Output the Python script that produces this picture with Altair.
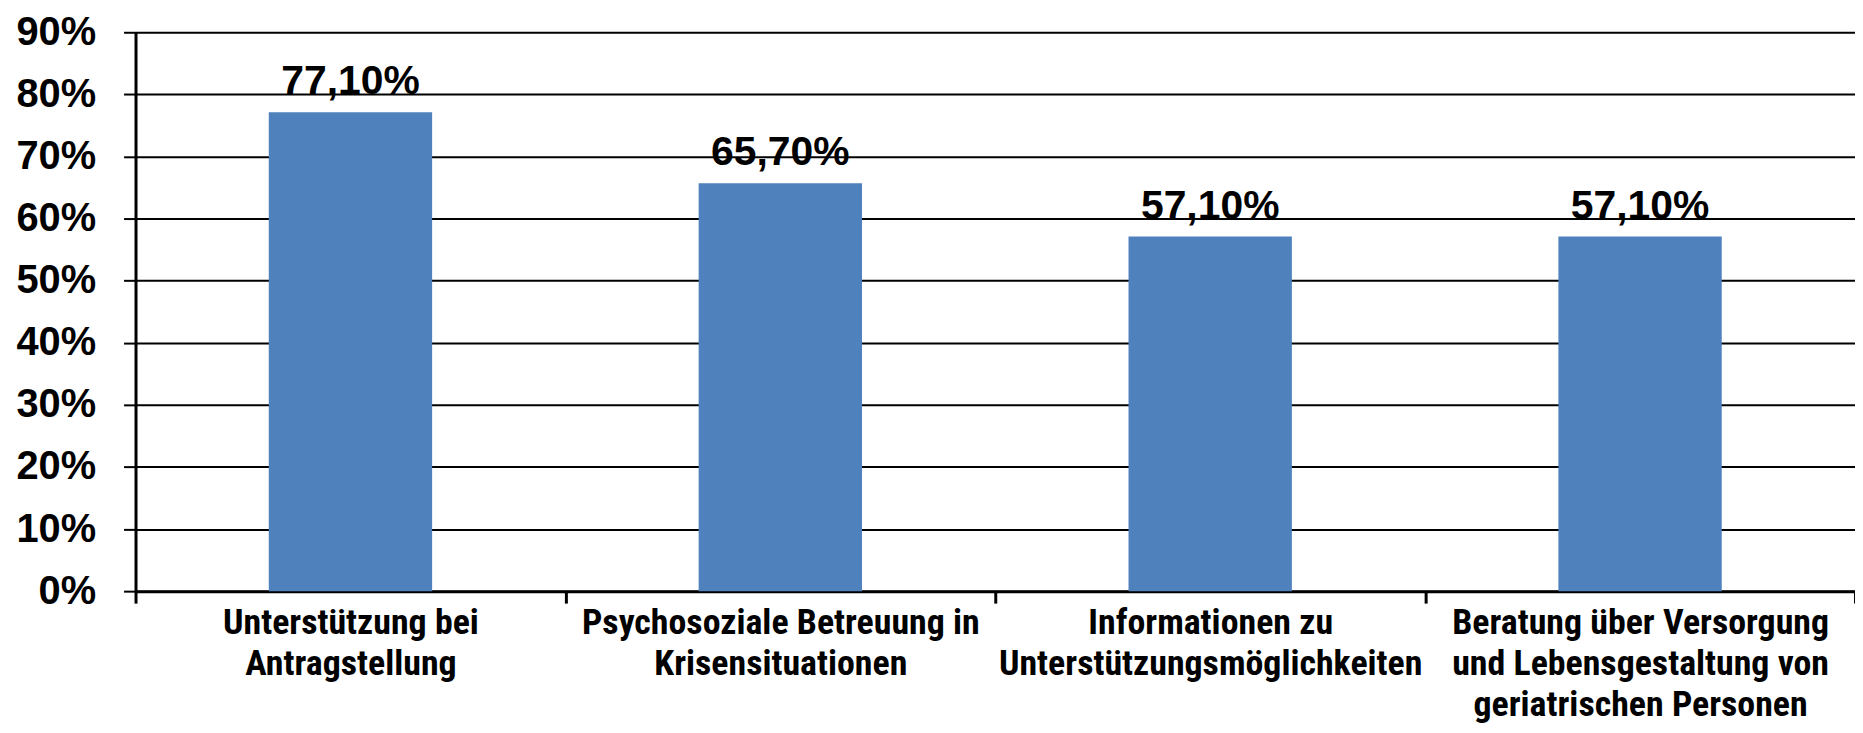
import altair as alt
import pandas as pd

categories = [
    "Unterstützung bei\nAntragstellung",
    "Psychosoziale Betreuung in\nKrisensituationen",
    "Informationen zu\nUnterstützungsmöglichkeiten",
    "Beratung über Versorgung\nund Lebensgestaltung von\ngeriatrischen Personen",
]
values = [77.1, 65.7, 57.1, 57.1]
labels = ["77,10%", "65,70%", "57,10%", "57,10%"]
y_ticks = [0, 10, 20, 30, 40, 50, 60, 70, 80, 90]

df = pd.DataFrame({"cat": categories, "val": values, "lab": labels})

x = alt.X(
    "cat:N",
    sort=categories,
    title=None,
    scale=alt.Scale(paddingInner=0, paddingOuter=0),
    axis=alt.Axis(
        labelAngle=0,
        labelExpr="split(datum.label, '\\n')",
        labelFont="Roboto Condensed",
        labelFontWeight="bold",
        labelFontSize=36,
        labelColor="black",
        labelLineHeight=41,
        labelPadding=3,
        labelLimit=0,
        tickBand="extent",
        tickSize=12,
        tickWidth=3,
        tickColor="black",
        domainColor="black",
        domainWidth=3,
        grid=False,
    ),
)

y = alt.Y(
    "val:Q",
    title=None,
    scale=alt.Scale(domain=[0, 90], nice=False),
    axis=alt.Axis(
        values=y_ticks,
        labelExpr="datum.value + '%'",
        labelFont="Liberation Sans",
        labelFontWeight="bold",
        labelFontSize=40,
        labelColor="black",
        labelPadding=28,
        tickSize=12,
        tickWidth=2,
        tickColor="black",
        domainColor="black",
        domainWidth=3,
        grid=True,
        gridColor="black",
        gridWidth=2,
        gridOpacity=1,
    ),
)

bars = alt.Chart(df).mark_bar(color="#4F81BD", width=alt.RelativeBandSize(0.38)).encode(x=x, y=y)
text = alt.Chart(df).mark_text(
    font="Liberation Sans", fontWeight="bold", fontSize=41, color="black",
    baseline="alphabetic", dy=-18,
).encode(x=alt.X("cat:N", sort=categories), y="val:Q", text="lab:N")

chart = (
    alt.layer(bars, text)
    .properties(
        width=1726,
        height=561,
        padding={"left": 128, "top": 23, "right": 0, "bottom": 133},
        autosize=alt.AutoSizeParams(type="none"),
    )
    .configure_view(stroke="#c8c8c8", strokeWidth=1)
)

chart.save("out.html", embed_options={"renderer": "svg", "actions": False})
